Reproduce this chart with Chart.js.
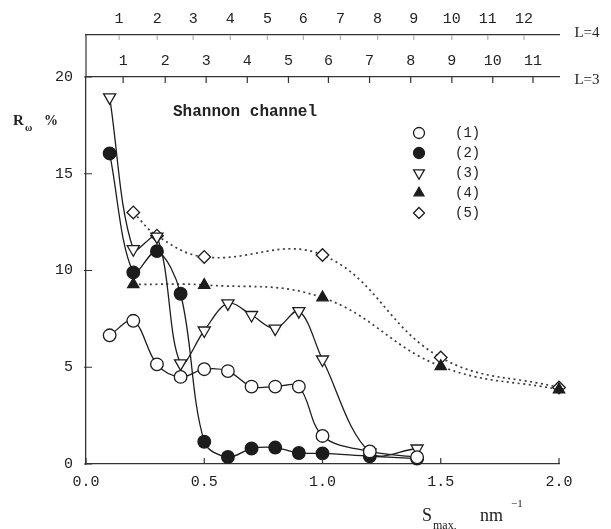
<!DOCTYPE html>
<html lang="en">
<head>
<meta charset="UTF-8">
<title>Shannon channel</title>
<script src="https://cdn.jsdelivr.net/npm/chart.js"></script>
<style>
  html, body { margin: 0; padding: 0; background: #fff; }
  #wrap { width: 611px; height: 529px; }
</style>
</head>
<body>
<div id="wrap"><canvas id="chart" width="611" height="529"></canvas></div>
<script>
// S_max (nm^-1) where series 1-3 were measured
const sMax = [0.1, 0.2, 0.3, 0.4, 0.5, 0.6, 0.7, 0.8, 0.9, 1.0, 1.2, 1.4];
const series1 = [6.65, 7.4, 5.15, 4.5, 4.9, 4.8, 4.0, 4.0, 4.0, 1.45, 0.65, 0.35];
const series2 = [16.05, 9.9, 11.0, 8.8, 1.15, 0.36, 0.8, 0.85, 0.57, 0.55, 0.4, 0.28];
const series3 = [18.95, 11.1, 11.75, 5.2, 6.9, 8.3, 7.7, 7.0, 7.9, 5.4, 0.6, 0.8];

// series 4 and 5 have fewer points
const sMax4 = [0.2, 0.5, 1.0, 1.5, 2.0];
const series4 = [9.28, 9.25, 8.6, 5.05, 3.85];
const sMax5 = [0.2, 0.3, 0.5, 1.0, 1.5, 2.0];
const series5 = [13.0, 11.8, 10.7, 10.8, 5.5, 3.95];

const legendLabels = ['(1)', '(2)', '(3)', '(4)', '(5)'];

// top scales: number of terms for L=3 and L=4, placed on the S_max axis
const l3Pos = [0.157, 0.335, 0.508, 0.682, 0.856, 1.025, 1.199, 1.373, 1.547, 1.72, 1.89];
const l3Labels = ['1', '2', '3', '4', '5', '6', '7', '8', '9', '10', '11'];
const l4Pos = [0.140, 0.301, 0.453, 0.610, 0.767, 0.919, 1.076, 1.233, 1.386, 1.547, 1.699, 1.852];
const l4Labels = ['1', '2', '3', '4', '5', '6', '7', '8', '9', '10', '11', '12'];

const ink = '#1c1c1c';
Chart.defaults.font.family = '"Liberation Mono", "DejaVu Sans Mono", monospace';
Chart.defaults.color = '#222';

function pts(xs, ys) {
    return xs.map((x, i) => ({ x: x, y: ys[i] }));
}

// marker look for each series, shared by the plot and the legend
const markers = [
    { pointStyle: 'circle', rotation: 0, radius: 6.3, fill: '#fff' },
    { pointStyle: 'circle', rotation: 0, radius: 6.3, fill: ink },
    { pointStyle: 'triangle', rotation: 180, radius: 7, fill: '#fff' },
    { pointStyle: 'triangle', rotation: 0, radius: 6.5, fill: ink },
    { pointStyle: 'rectRot', rotation: 0, radius: 6.3, fill: '#fff' }
];

function makeSet(i, data, dotted) {
    const m = markers[i];
    return {
        label: legendLabels[i],
        data: data,
        clip: false,
        showLine: true,
        borderColor: dotted ? '#3a3a3a' : ink,
        borderWidth: dotted ? 1.7 : 1.3,
        borderDash: dotted ? [2, 3.5] : [],
        tension: dotted ? 0.4 : 0.35,
        pointStyle: m.pointStyle,
        rotation: m.rotation,
        pointRadius: m.radius,
        pointBackgroundColor: m.fill,
        pointBorderColor: ink,
        pointBorderWidth: 1.3
    };
}

const decor = {
    id: 'decor',
    afterDraw(chart) {
        const ctx = chart.ctx;
        const a = chart.chartArea;
        const xs = chart.scales.x, ys = chart.scales.y;
        const l3 = chart.scales.l3, l4 = chart.scales.l4;
        ctx.save();
        ctx.strokeStyle = '#333';
        ctx.lineWidth = 1.2;
        ctx.beginPath();
        // left axis goes on up to the L=4 line
        ctx.moveTo(a.left, l4.bottom);
        ctx.lineTo(a.left, a.top);
        // inward tick marks
        xs.ticks.forEach(t => {
            const p = xs.getPixelForValue(t.value);
            ctx.moveTo(p, a.bottom);
            ctx.lineTo(p, a.bottom - 6);
        });
        ys.ticks.forEach(t => {
            const p = ys.getPixelForValue(t.value);
            ctx.moveTo(a.left - 2, p);
            ctx.lineTo(a.left + 6, p);
        });
        l3.ticks.forEach(t => {
            const p = l3.getPixelForValue(t.value);
            ctx.moveTo(p, a.top);
            ctx.lineTo(p, a.top + 6);
        });
        ctx.stroke();
        ctx.strokeStyle = '#b0b0b0';
        ctx.beginPath();
        l4.ticks.forEach(t => {
            const p = l4.getPixelForValue(t.value);
            ctx.moveTo(p, l4.bottom);
            ctx.lineTo(p, l4.bottom + 5);
        });
        ctx.stroke();

        ctx.fillStyle = '#222';
        ctx.textBaseline = 'middle';
        ctx.textAlign = 'center';
        ctx.font = '15px "Liberation Serif", serif';
        ctx.fillText('L=4', 587, l4.bottom - 2);
        ctx.fillText('L=3', 587, a.top + 3);

        // y title: R_w %
        ctx.textAlign = 'left';
        ctx.font = 'bold 15px "Liberation Serif", serif';
        ctx.fillText('R', 13, 121);
        ctx.font = 'bold 10px "Liberation Serif", serif';
        ctx.fillText('\u03c9', 25, 128);
        ctx.font = 'bold 14px "Liberation Serif", serif';
        ctx.fillText('%', 44, 121);

        // x title: S_max, nm^-1
        ctx.font = '18px "Liberation Serif", serif';
        ctx.fillText('S', 422, 516);
        ctx.font = '12px "Liberation Serif", serif';
        ctx.fillText('max,', 433, 526);
        ctx.font = '18px "Liberation Serif", serif';
        ctx.fillText('nm', 480, 516);
        ctx.font = '11px "Liberation Serif", serif';
        ctx.fillText('\u22121', 511, 504);

        ctx.font = 'bold 16px "Liberation Mono", monospace';
        ctx.fillText('Shannon channel', 173, 112);

        // legend
        ctx.font = '14px "Liberation Mono", monospace';
        legendLabels.forEach((lab, i) => {
            const m = markers[i];
            const y = 133 + i * 20;
            ctx.fillStyle = m.fill;
            ctx.strokeStyle = ink;
            ctx.lineWidth = 1.3;
            if (Chart.helpers && Chart.helpers.drawPoint) {
                Chart.helpers.drawPoint(ctx, {
                    pointStyle: m.pointStyle, rotation: m.rotation,
                    radius: m.radius - 0.8, borderWidth: 1.3
                }, 419, y);
            }
            ctx.fillStyle = '#222';
            ctx.fillText(lab, 455, y);
        });
        ctx.restore();
    }
};

new Chart(document.getElementById('chart'), {
    type: 'scatter',
    data: {
        datasets: [
            makeSet(0, pts(sMax, series1), false),
            makeSet(1, pts(sMax, series2), false),
            makeSet(2, pts(sMax, series3), false),
            makeSet(3, pts(sMax4, series4), true),
            makeSet(4, pts(sMax5, series5), true)
        ]
    },
    options: {
        responsive: false,
        animation: false,
        layout: { padding: { left: 0, right: 52, top: 0, bottom: 0 } },
        plugins: { legend: { display: false }, tooltip: { enabled: false } },
        scales: {
            x: {
                type: 'linear', position: 'bottom', min: 0, max: 2,
                ticks: { stepSize: 0.5, padding: 9, font: { size: 15 },
                         callback: v => v.toFixed(1) },
                grid: { display: false, drawTicks: false },
                border: { display: true, color: '#333', width: 1.3 },
                afterFit: s => { s.height = 65; }
            },
            l3: {
                type: 'linear', position: 'top', weight: 0, min: 0, max: 2,
                afterBuildTicks: s => { s.ticks = l3Pos.map(v => ({ value: v })); },
                ticks: { padding: 7, font: { size: 15 },
                         callback: (v, i) => l3Labels[i] },
                grid: { display: false, drawTicks: false },
                border: { display: true, color: '#333', width: 1.3 },
                afterFit: s => { s.height = 42; }
            },
            l4: {
                type: 'linear', position: 'top', weight: 1, min: 0, max: 2,
                afterBuildTicks: s => { s.ticks = l4Pos.map(v => ({ value: v })); },
                ticks: { padding: 7, font: { size: 15 },
                         callback: (v, i) => l4Labels[i] },
                grid: { display: false, drawTicks: false },
                border: { display: true, color: '#333', width: 1.3 },
                afterFit: s => { s.height = 35; }
            },
            y: {
                type: 'linear', min: 0, max: 20,
                ticks: { stepSize: 5, padding: 13, font: { size: 15 } },
                grid: { display: false, drawTicks: false },
                border: { display: true, color: '#333', width: 1.3 },
                afterFit: s => { s.width = 86; }
            }
        }
    },
    plugins: [decor]
});
</script>
</body>
</html>
